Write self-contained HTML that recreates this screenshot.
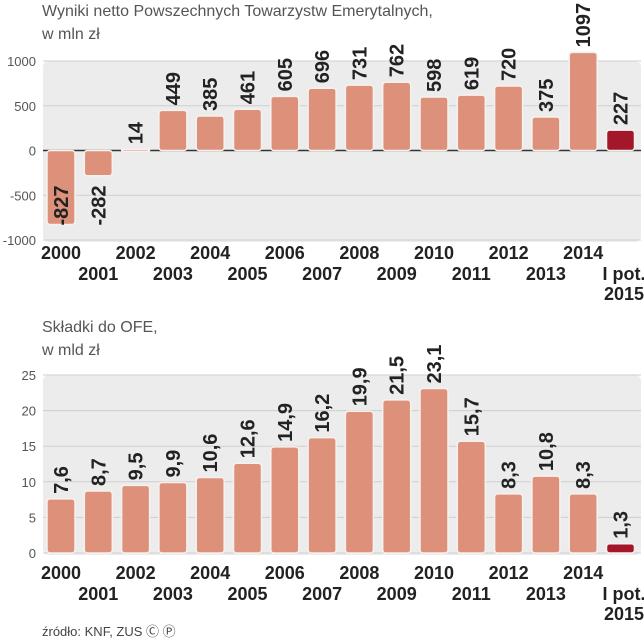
<!DOCTYPE html>
<html><head><meta charset="utf-8"><style>
body{margin:0;background:#fff;font-family:"Liberation Sans",sans-serif}
svg{display:block}
</style></head><body>
<svg id="s" width="644" height="640" xmlns="http://www.w3.org/2000/svg">
<text x="42" y="16" font-size="16" fill="#555">Wyniki netto Powszechnych Towarzystw Emerytalnych,</text>
<text x="42" y="39" font-size="16" fill="#555">w mln zł</text>
<text x="42" y="332" font-size="16" fill="#555">Składki do OFE,</text>
<text x="42" y="355" font-size="16" fill="#555">w mld zł</text>
<text x="42" y="636" font-size="13" fill="#444">źródło: KNF, ZUS Ⓒ Ⓟ</text>
</svg>
<script>
const years=["2000","2001","2002","2003","2004","2005","2006","2007","2008","2009","2010","2011","2012","2013","2014","I pot.|2015"];
const netValues=[-827,-282,14,449,385,461,605,696,731,762,598,619,720,375,1097,227];
const netLabels=["-827","-282","14","449","385","461","605","696","731","762","598","619","720","375","1097","227"];
const netTicks=[1000,500,0,-500,-1000];
const contribValues=[7.6,8.7,9.5,9.9,10.6,12.6,14.9,16.2,19.9,21.5,23.1,15.7,8.3,10.8,8.3,1.3];
const contribLabels=["7,6","8,7","9,5","9,9","10,6","12,6","14,9","16,2","19,9","21,5","23,1","15,7","8,3","10,8","8,3","1,3"];
const contribTicks=[25,20,15,10,5,0];
const NS="http://www.w3.org/2000/svg";
const svg=document.getElementById('s');
function mk(t,a,p){const e=document.createElementNS(NS,t);for(const k in a)e.setAttribute(k,a[k]);(p||svg).appendChild(e);return e;}
const xC=i=>61+i*37.3;
function chart(vals,labels,ticks,yTop,yBot,vMax,vMin,yearY,zeroLine,prefix){
  const y=v=>yTop+(vMax-v)/(vMax-vMin)*(yBot-yTop);
  const bg=mk('rect',{x:43,y:yTop,width:598,height:yBot-yTop+2,rx:6,fill:'#ececec'});
  
  
  ticks.forEach(t=>{
    const l=mk('line',{x1:43,x2:641,y1:y(t),y2:y(t),stroke:(t===0&&zeroLine)?'#333':'#cfcfcf','stroke-width':(t===0&&zeroLine)?1.5:1});
    
    
    const tx=mk('text',{x:36,y:y(t)+5,'font-size':13,fill:'#555','text-anchor':'end'});
    tx.textContent=t;
    
    
  });
  vals.forEach((v,i)=>{
    const last=i===vals.length-1;
    const y0=y(0),yv=y(v);
    const r=mk('rect',{x:xC(i)-14,y:Math.min(y0,yv),width:28,height:Math.max(Math.abs(yv-y0),2),rx:3,fill:last?'#a3172b':'#dd917a',stroke:'#f7f1ee','stroke-width':1.5});
    
    
    const sy=v<0?y0+75:yv-5;
    const t=mk('text',{x:0,y:0,'font-size':20,'font-weight':'bold',fill:'#222',transform:`translate(${xC(i)+7},${sy}) rotate(-90)`});
    t.textContent=labels[i];
    
    
    const parts=years[i].split('|');
    const yy=yearY+(i%2?21:0);
    parts.forEach((p,k)=>{
      const a=mk('text',{x:last?624:xC(i),y:yy+k*20,'font-size':18,'font-weight':'bold',fill:'#222','text-anchor':'middle'});
      a.textContent=p;
      
      
    });
  });
}
chart(netValues,netLabels,netTicks,61,240,1000,-1000,259,true,'net');
chart(contribValues,contribLabels,contribTicks,375,553,25,0,579,false,'contrib');
</script>
</body></html>
